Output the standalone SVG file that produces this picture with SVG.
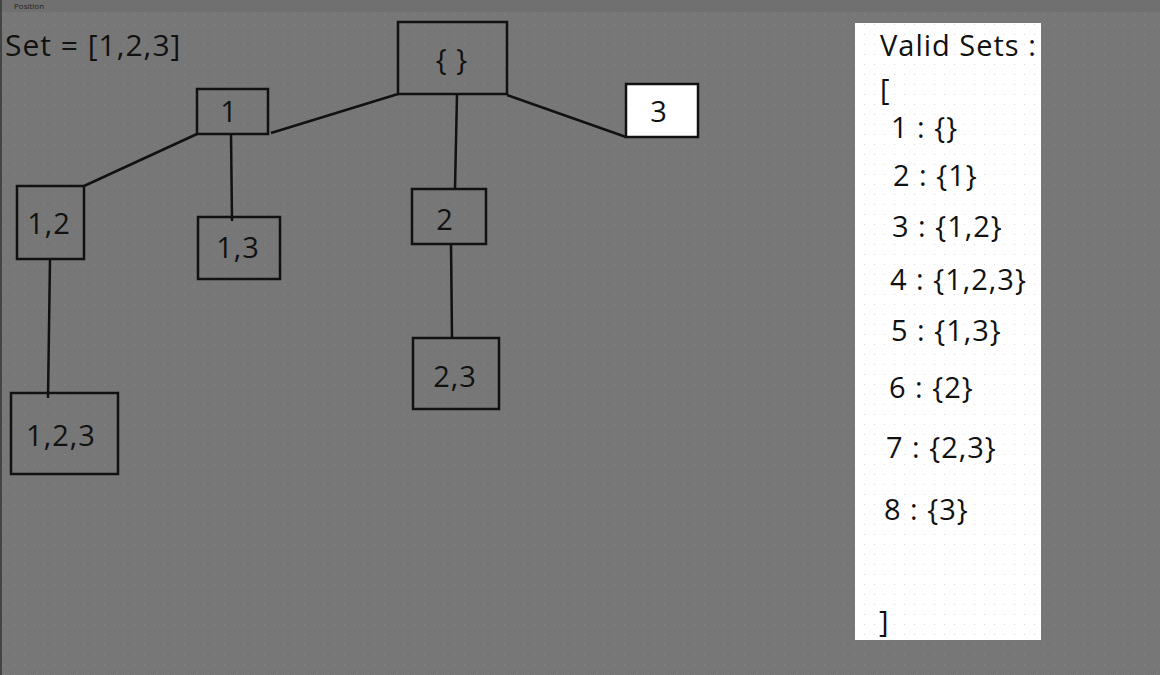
<svg xmlns="http://www.w3.org/2000/svg" width="1160" height="675" viewBox="0 0 1160 675">
<style>
.t{font-family:"Open Sans","Noto Sans","Liberation Sans",sans-serif;fill:#111;letter-spacing:1px}
.lbl{font-size:29px;text-anchor:middle}
.lst{font-size:29px}
.box{fill:none;stroke:#111;stroke-width:2.5}
.edge{stroke:#111;stroke-width:2.5;fill:none}
</style>
<defs>
<pattern id="dots" width="10" height="10" patternUnits="userSpaceOnUse">
<rect x="4" y="4" width="1" height="1" fill="#8a8a8a"/>
</pattern>
<pattern id="dotsw" width="10" height="10" patternUnits="userSpaceOnUse">
<rect x="4" y="4" width="1" height="1" fill="#d8d8d8"/>
</pattern>
</defs>
<rect width="1160" height="675" fill="#777777"/>
<rect width="1160" height="675" fill="url(#dots)"/>
<rect x="0" y="0" width="1160" height="12" fill="#707070"/>
<rect x="0" y="0" width="2" height="675" fill="#444"/>
<text x="14" y="9" font-size="8" fill="#222" font-family="Open Sans, sans-serif">Position</text>
<text class="t" x="5" y="56" font-size="30">Set = [1,2,3]</text>

<g id="connectors">
<line class="edge" x1="398" y1="94" x2="271" y2="133"/>
<line class="edge" x1="507" y1="95" x2="626" y2="137"/>
<line class="edge" x1="457" y1="94" x2="455" y2="189"/>
<line class="edge" x1="197" y1="134" x2="84" y2="186"/>
<line class="edge" x1="231" y1="134" x2="232" y2="221"/>
<line class="edge" x1="50" y1="259" x2="48" y2="398"/>
<line class="edge" x1="451" y1="244" x2="452" y2="338"/>
</g>

<g id="n-empty"><rect class="box" x="398" y="22" width="109" height="72"/><text class="t lbl" x="452" y="70">{ }</text></g>
<g id="n-1"><rect class="box" x="197" y="89" width="71" height="45"/><text class="t lbl" x="229" y="122">1</text></g>
<g id="n-3"><rect x="626" y="84" width="72" height="53" fill="#ffffff" stroke="#111" stroke-width="2.5"/><text class="t lbl" x="659" y="122">3</text></g>
<g id="n-12"><rect class="box" x="17" y="186" width="67" height="73"/><text class="t lbl" x="49" y="234">1,2</text></g>
<g id="n-13"><rect class="box" x="198" y="217" width="82" height="62"/><text class="t lbl" x="238" y="258">1,3</text></g>
<g id="n-2"><rect class="box" x="412" y="189" width="74" height="55"/><text class="t lbl" x="445" y="230">2</text></g>
<g id="n-23"><rect class="box" x="413" y="338" width="86" height="71"/><text class="t lbl" x="455" y="387">2,3</text></g>
<g id="n-123"><rect class="box" x="11" y="393" width="107" height="81"/><text class="t lbl" x="61" y="446">1,2,3</text></g>

<g id="valid-sets">
<rect x="855" y="23" width="186" height="617" fill="#ffffff"/>
<rect x="855" y="23" width="186" height="617" fill="url(#dotsw)"/>
<text class="t lst" x="880" y="56">Valid Sets :</text>
<text class="t lst" x="880" y="100">[</text>
<text class="t lst" x="891" y="138">1 : {}</text>
<text class="t lst" x="893" y="186">2 : {1}</text>
<text class="t lst" x="892" y="237">3 : {1,2}</text>
<text class="t lst" x="890" y="290">4 : {1,2,3}</text>
<text class="t lst" x="891" y="341">5 : {1,3}</text>
<text class="t lst" x="889" y="398">6 : {2}</text>
<text class="t lst" x="886" y="458">7 : {2,3}</text>
<text class="t lst" x="884" y="520">8 : {3}</text>
<text class="t lst" x="879" y="632">]</text>
</g>
</svg>
